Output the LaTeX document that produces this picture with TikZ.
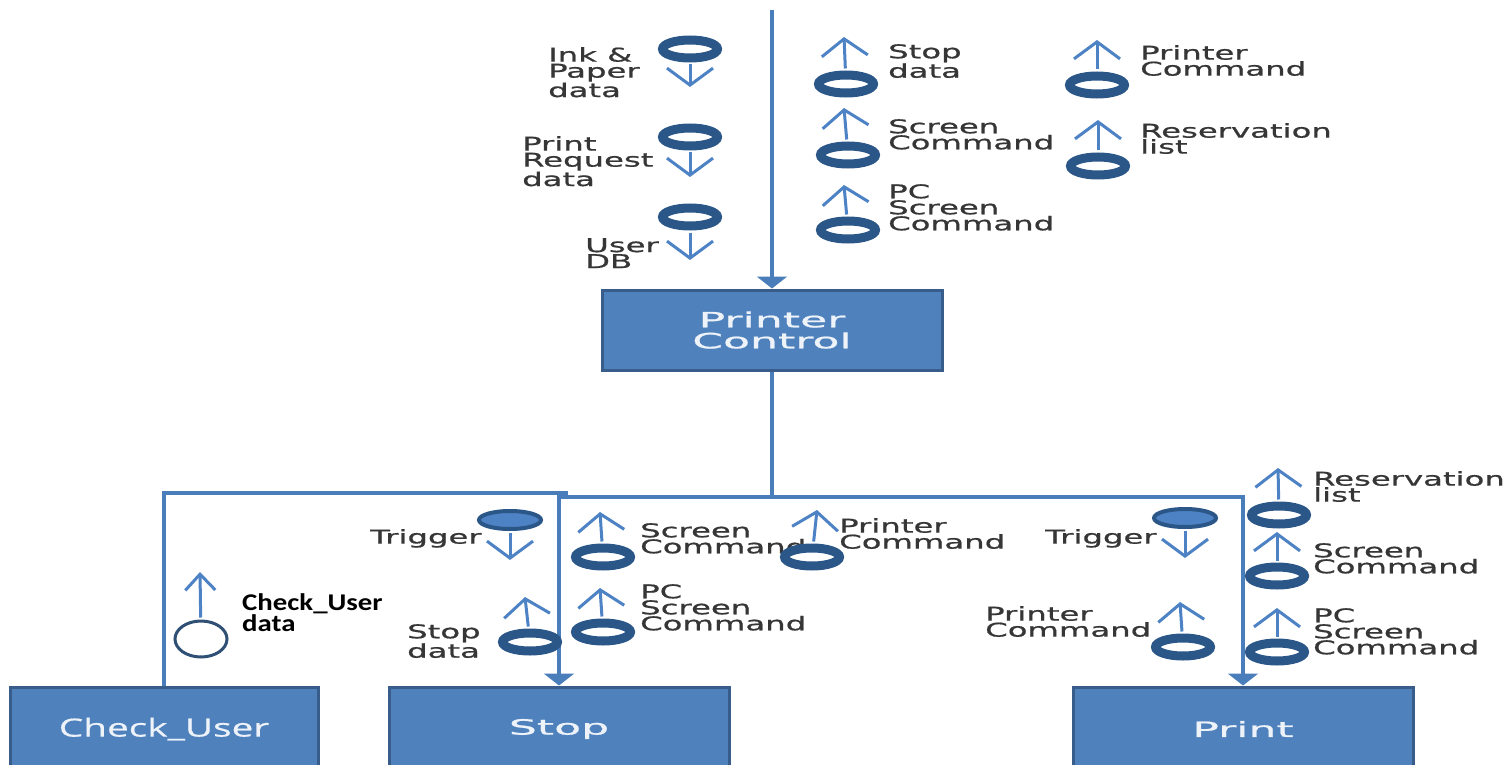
\documentclass[tikz,border=0pt]{standalone}
\usepackage{fontspec}
\usetikzlibrary{arrows.meta,shapes.geometric}
\definecolor{linecol}{HTML}{4A7EBB}
\definecolor{boxfill}{HTML}{4F81BD}
\definecolor{boxedge}{HTML}{385D8A}
\definecolor{ringcol}{HTML}{2B5688}
\definecolor{flowcol}{HTML}{4D82C4}
\definecolor{lblcol}{HTML}{363636}
\definecolor{boxtxt}{HTML}{EEF3FA}
\definecolor{cucol}{HTML}{2F4F75}
\newfontfamily\lblfont[FakeStretch=1.7,FakeBold=0.8]{DejaVu Sans}
\newfontfamily\boxfont[FakeStretch=2.1,FakeBold=1]{DejaVu Sans}
\newfontfamily\cufont[FakeStretch=1.55,FakeBold=0.6]{Open Sans}
\newfontfamily\cudfont[FakeStretch=1.2]{Carlito}

\begin{document}
\begin{tikzpicture}[x=1pt,y=-1pt,
	module/.style={draw=boxedge,fill=boxfill,line width=3pt,minimum width=340pt,minimum height=80pt,text=boxtxt,align=center,font={\boxfont\fontsize{21}{21}\selectfont}},
	link/.style={draw=linecol,line width=4pt},
	linkarr/.style={link,-{Triangle[length=12pt,width=30pt]}},
	ring/.style={ellipse,draw=ringcol,fill=white,line width=9pt,minimum width=55pt,minimum height=18pt,inner sep=0pt},
	trig/.style={ring,fill=flowcol,line width=4pt,minimum width=62pt,minimum height=18pt},
	flow/.style={draw=flowcol,line width=3pt,shorten <=2pt,-{Straight Barb[length=17pt,width=46pt]}},
	lbl/.style={anchor=north west,inner sep=0pt,align=left,text=lblcol,font={\lblfont\fontsize{19}{16}\selectfont}}]
	\useasboundingbox (0,0) rectangle (1507,765);
	\clip (0,0) rectangle (1507,765);

	% modules
	\node[module] (pc) at (772,330) {Printer\\Control};
	\node[module,minimum height=84pt] (stop) at (559,729) {Stop};
	\node[module,minimum height=84pt] (print) at (1243,729) {Print};
	\node[module,minimum width=308pt,minimum height=84pt,font={\cufont\fontsize{25}{30}\selectfont}] (check) at (164,729) {Check\_User};

	% calls
	\coordinate (top) at (772,10);
	\coordinate (jn) at (772,497);
	\coordinate (lft) at (568,493);
	\draw[linkarr] (top) -- (pc.north);
	\draw[link] (pc.south) -- (jn);
	\draw[linkarr] (jn) -| (stop.north);
	\draw[linkarr] (jn) -| (print.north);
	\draw[link] (lft) -| (check.north);

	% data couples
	\foreach \n/\x/\y/\tx/\ty/\lx/\ly/\txt in {
		ink/690/49/690/87/548/61/{Ink \&\\Paper\\data},
		req/690/137/690/177/522/150/{Print\\Request\\data},
		udb/690/217/690/260/585/252/{User\\DB},
		sdt/846/84/844/37/888/58/{Stop\\data},
		scr/848/155/844/108/888/133/{Screen\\Command},
		pcs/848/230/844/185/888/198/{PC\\Screen\\Command},
		prc/1097/85/1097/40/1140/59/{Printer\\Command},
		rsv/1098/166/1098/120/1140/137/{Reservation\\list},
		sscr/603/557/600/512/640/537/{Screen\\Command},
		spcs/603/632/600/588/640/598/{PC\\Screen\\Command},
		sstd/530/642/525/597/407/638/{Stop\\data},
		mprc/812/557/817/510/839/532/{Printer\\Command},
		pprc/1183/647/1180/602/985/620/{Printer\\Command},
		prsv/1279/515/1278/468/1313/485/{Reservation\\list},
		pscr/1277/576/1277/532/1313/557/{Screen\\Command},
		ppcs/1277/652/1277/608/1313/622/{PC\\Screen\\Command}}
	{
		\node[lbl] (\n l) at (\lx,\ly-14) {\txt};
		\node[ring] (\n r) at (\x,\y) {};
		\coordinate (\n t) at (\tx,\ty);
		\draw[flow] (\n r) -- (\n t);
	}

	% control flags
	\foreach \n/\x/\y/\lx in {stg/510/520/370, ptg/1185/518/1045}
	{
		\node[lbl] (\n l) at (\lx,529) {Trigger};
		\node[trig] (\n r) at (\x,\y) {};
		\coordinate (\n t) at (\x,\y+40);
		\draw[flow] (\n r) -- (\n t);
	}

	% check user data
	\node[ellipse,draw=cucol,line width=3pt,minimum width=52pt,minimum height=36pt,inner sep=0pt] (cur) at (201,639) {};
	\coordinate (cut) at (200,572);
	\draw[flow,-{Straight Barb[length=16pt,width=30pt]}] (cur) -- (cut);
	\node[anchor=north west,inner sep=0pt,align=left,font={\cudfont\bfseries\fontsize{24}{18}\selectfont}] (cul) at (242,593) {Check\_User\\data};
\end{tikzpicture}
\end{document}
